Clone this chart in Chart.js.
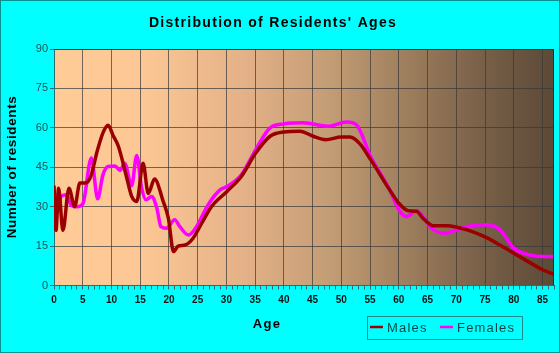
<!DOCTYPE html>
<html>
<head>
<meta charset="utf-8">
<script src="https://cdn.jsdelivr.net/npm/chart.js@4/dist/chart.umd.min.js"></script>
<style>
    html, body { margin: 0; padding: 0; background: #00ffff; }
    canvas { display: block; }
</style>
</head>
<body>
<canvas id="ages-chart" width="560" height="353"></canvas>
<script>
// Données
const malesAge = [0, 0.35, 0.8, 1.55, 2.6, 3.6, 4.5, 5.5, 6.4, 7.5, 8.5, 9.4, 10.3, 11.2, 12.6, 13.5, 14.4, 15.5, 16.4, 17.5, 19, 19.9, 20.8, 21.6, 22.8, 24.2, 25.7, 27.4, 30.1, 32.6, 35.1, 37.6, 40, 42.8, 45.1, 47.3, 50, 51.5, 53.2, 55.1, 58.4, 60, 61.6, 63.1, 64.2, 66, 68.3, 70.1, 72.3, 75.1, 77.6, 80, 82.8, 85.1, 87];
const malesCount = [38, 21, 37, 21, 37, 30, 39, 39, 41.5, 51, 58, 61, 57, 53, 41.5, 34, 32, 46.5, 35, 40.5, 32, 25.6, 12.9, 15, 15.4, 18, 23.7, 30, 35.8, 41.5, 50.4, 56.8, 58.4, 58.7, 56.8, 55.5, 56.5, 56.5, 54, 47.9, 36.4, 31.3, 28.5, 28.2, 25.6, 22.7, 22.7, 22.2, 20.9, 18.4, 15.4, 12.3, 8.7, 5.9, 4.3];

const femalesAge = [0.3, 1.3, 2.2, 3, 4, 5, 6.5, 7.6, 8.5, 9.4, 10.6, 11.5, 12.3, 13.5, 14.4, 15.2, 16, 17, 17.9, 18.6, 19.6, 21, 21.9, 23.4, 24.8, 26.8, 28.9, 30.1, 32.6, 35.1, 37.6, 40, 43.4, 47.7, 50.9, 52.6, 55.1, 58.4, 60, 61.3, 63.1, 64.2, 65.7, 68, 70.1, 72.3, 75.1, 77.6, 80, 82.8, 85.1, 87];
const femalesCount = [26, 34, 34.5, 30.5, 30, 31, 48.5, 33, 42, 45.3, 45.5, 43.8, 46.5, 38, 49.5, 37.7, 32.6, 33.9, 29.4, 22.4, 21.8, 25, 22.4, 19.2, 22.4, 30.7, 36.4, 37.7, 42.1, 51.7, 60, 61.5, 61.9, 60.6, 62.2, 61.2, 49.1, 36.5, 28.8, 26.2, 28.5, 26.2, 21.8, 19.9, 21.2, 22.7, 23.1, 21.2, 14.2, 11.6, 11, 11];

const xTickLabels = [0, 5, 10, 15, 20, 25, 30, 35, 40, 45, 50, 55, 60, 65, 70, 75, 80, 85];
const yTickLabels = [0, 15, 30, 45, 60, 75, 90];
const ageMax = 87;

const FONT = "'Liberation Sans', Arial, sans-serif";
const gridColor = 'rgba(55, 55, 55, 0.7)';
const tickColor = '#2a7070';

function toPoints(xs, ys) {
    return xs.map((x, i) => ({ x: x, y: ys[i] }));
}

// Fond, titres, légende et cadre
const decorPlugin = {
    id: 'decor',
    beforeDraw(chart) {
        const { ctx, chartArea: a, width, height } = chart;
        ctx.save();
        ctx.fillStyle = '#00ffff';
        ctx.fillRect(0, 0, width, height);
        const g = ctx.createLinearGradient(a.left, 0, a.right, 0);
        g.addColorStop(0, '#ffcb97');
        g.addColorStop(0.18, '#fcc794');
        g.addColorStop(0.38, '#e4b188');
        g.addColorStop(0.55, '#c39d75');
        g.addColorStop(0.7, '#9f7f5e');
        g.addColorStop(0.85, '#7a6149');
        g.addColorStop(1, '#5b4937');
        ctx.fillStyle = g;
        ctx.fillRect(a.left, a.top, a.right - a.left, a.bottom - a.top);
        ctx.restore();
    },
    afterDraw(chart) {
        const { ctx, chartArea: a, width, height } = chart;
        ctx.save();
        // cadre du graphique
        ctx.strokeStyle = 'rgba(40, 40, 40, 0.8)';
        ctx.lineWidth = 1;
        ctx.beginPath();
        ctx.moveTo(a.right - 0.5, a.top);
        ctx.lineTo(a.right - 0.5, a.bottom);
        ctx.moveTo(a.left, a.top + 0.5);
        ctx.lineTo(a.right, a.top + 0.5);
        ctx.stroke();

        // titre
        ctx.fillStyle = '#000';
        ctx.textAlign = 'center';
        ctx.textBaseline = 'middle';
        ctx.letterSpacing = '1.3px';
        ctx.font = 'bold 14px ' + FONT;
        ctx.fillText("Distribution of Residents' Ages", 273, 23);

        // titre axe x
        ctx.font = 'bold 13px ' + FONT;
        ctx.fillText('Age', 267, 324);

        // titre axe y
        ctx.letterSpacing = '0.6px';
        ctx.translate(12, 167);
        ctx.rotate(-Math.PI / 2);
        ctx.font = 'bold 13.5px ' + FONT;
        ctx.fillText('Number of residents', 0, 0);
        ctx.setTransform(1, 0, 0, 1, 0, 0);

        // légende
        ctx.strokeStyle = '#1f8a8a';
        ctx.strokeRect(367.5, 316.5, 155, 23);
        ctx.lineWidth = 2.5;
        ctx.strokeStyle = '#9b0000';
        ctx.beginPath();
        ctx.moveTo(370, 327);
        ctx.lineTo(383, 327);
        ctx.stroke();
        ctx.strokeStyle = '#ff00ff';
        ctx.beginPath();
        ctx.moveTo(440, 327);
        ctx.lineTo(453, 327);
        ctx.stroke();
        ctx.fillStyle = '#0a4848';
        ctx.textAlign = 'left';
        ctx.font = '13px ' + FONT;
        ctx.letterSpacing = '1.2px';
        ctx.fillText('Males', 387, 328);
        ctx.fillText('Females', 457, 328);

        // bordure extérieure
        ctx.letterSpacing = '0px';
        ctx.lineWidth = 1;
        ctx.strokeStyle = '#0a8f8f';
        ctx.strokeRect(0.5, 0.5, width - 1, height - 1);
        ctx.restore();
    }
};

new Chart(document.getElementById('ages-chart'), {
    type: 'line',
    data: {
        datasets: [{
            label: 'Males',
            data: toPoints(malesAge, malesCount),
            borderColor: '#9b0000',
            borderWidth: 3.5,
            pointRadius: 0,
            cubicInterpolationMode: 'monotone',
            fill: false
        }, {
            label: 'Females',
            data: toPoints(femalesAge, femalesCount),
            borderColor: '#ff00ff',
            borderWidth: 3.5,
            pointRadius: 0,
            cubicInterpolationMode: 'monotone',
            fill: false
        }]
    },
    options: {
        responsive: false,
        animation: false,
        devicePixelRatio: 1,
        layout: { padding: { top: 49, left: 0, right: 6, bottom: 0 } },
        plugins: {
            legend: { display: false },
            title: { display: false },
            tooltip: { enabled: false }
        },
        scales: {
            x: {
                type: 'linear',
                min: 0,
                max: ageMax,
                afterBuildTicks(scale) {
                    const t = [];
                    for (let i = 0; i <= ageMax; i++) t.push({ value: i });
                    scale.ticks = t;
                },
                afterFit(scale) { scale.height = 67.5; },
                ticks: {
                    autoSkip: false,
                    maxRotation: 0,
                    padding: 5,
                    color: '#111',
                    font: { family: FONT, size: 10, weight: 'bold' },
                    callback: v => xTickLabels.includes(v) ? String(v) : ''
                },
                grid: {
                    color: c => (c.tick && c.tick.value % 5 === 0 && c.tick.value > 0) ? gridColor : 'transparent',
                    tickColor: tickColor,
                    tickLength: 4,
                    lineWidth: 1
                },
                border: { color: tickColor, width: 1 }
            },
            y: {
                min: 0,
                max: 90,
                afterBuildTicks(scale) {
                    scale.ticks = yTickLabels.map(v => ({ value: v }));
                },
                afterFit(scale) { scale.width = 54; },
                ticks: {
                    padding: 2,
                    color: '#1c5252',
                    font: { family: FONT, size: 11 }
                },
                grid: {
                    color: c => (c.tick && c.tick.value > 0) ? gridColor : 'transparent',
                    tickColor: tickColor,
                    tickLength: 4,
                    lineWidth: 1
                },
                border: { color: tickColor, width: 1 }
            }
        }
    },
    plugins: [decorPlugin]
});
</script>
</body>
</html>
